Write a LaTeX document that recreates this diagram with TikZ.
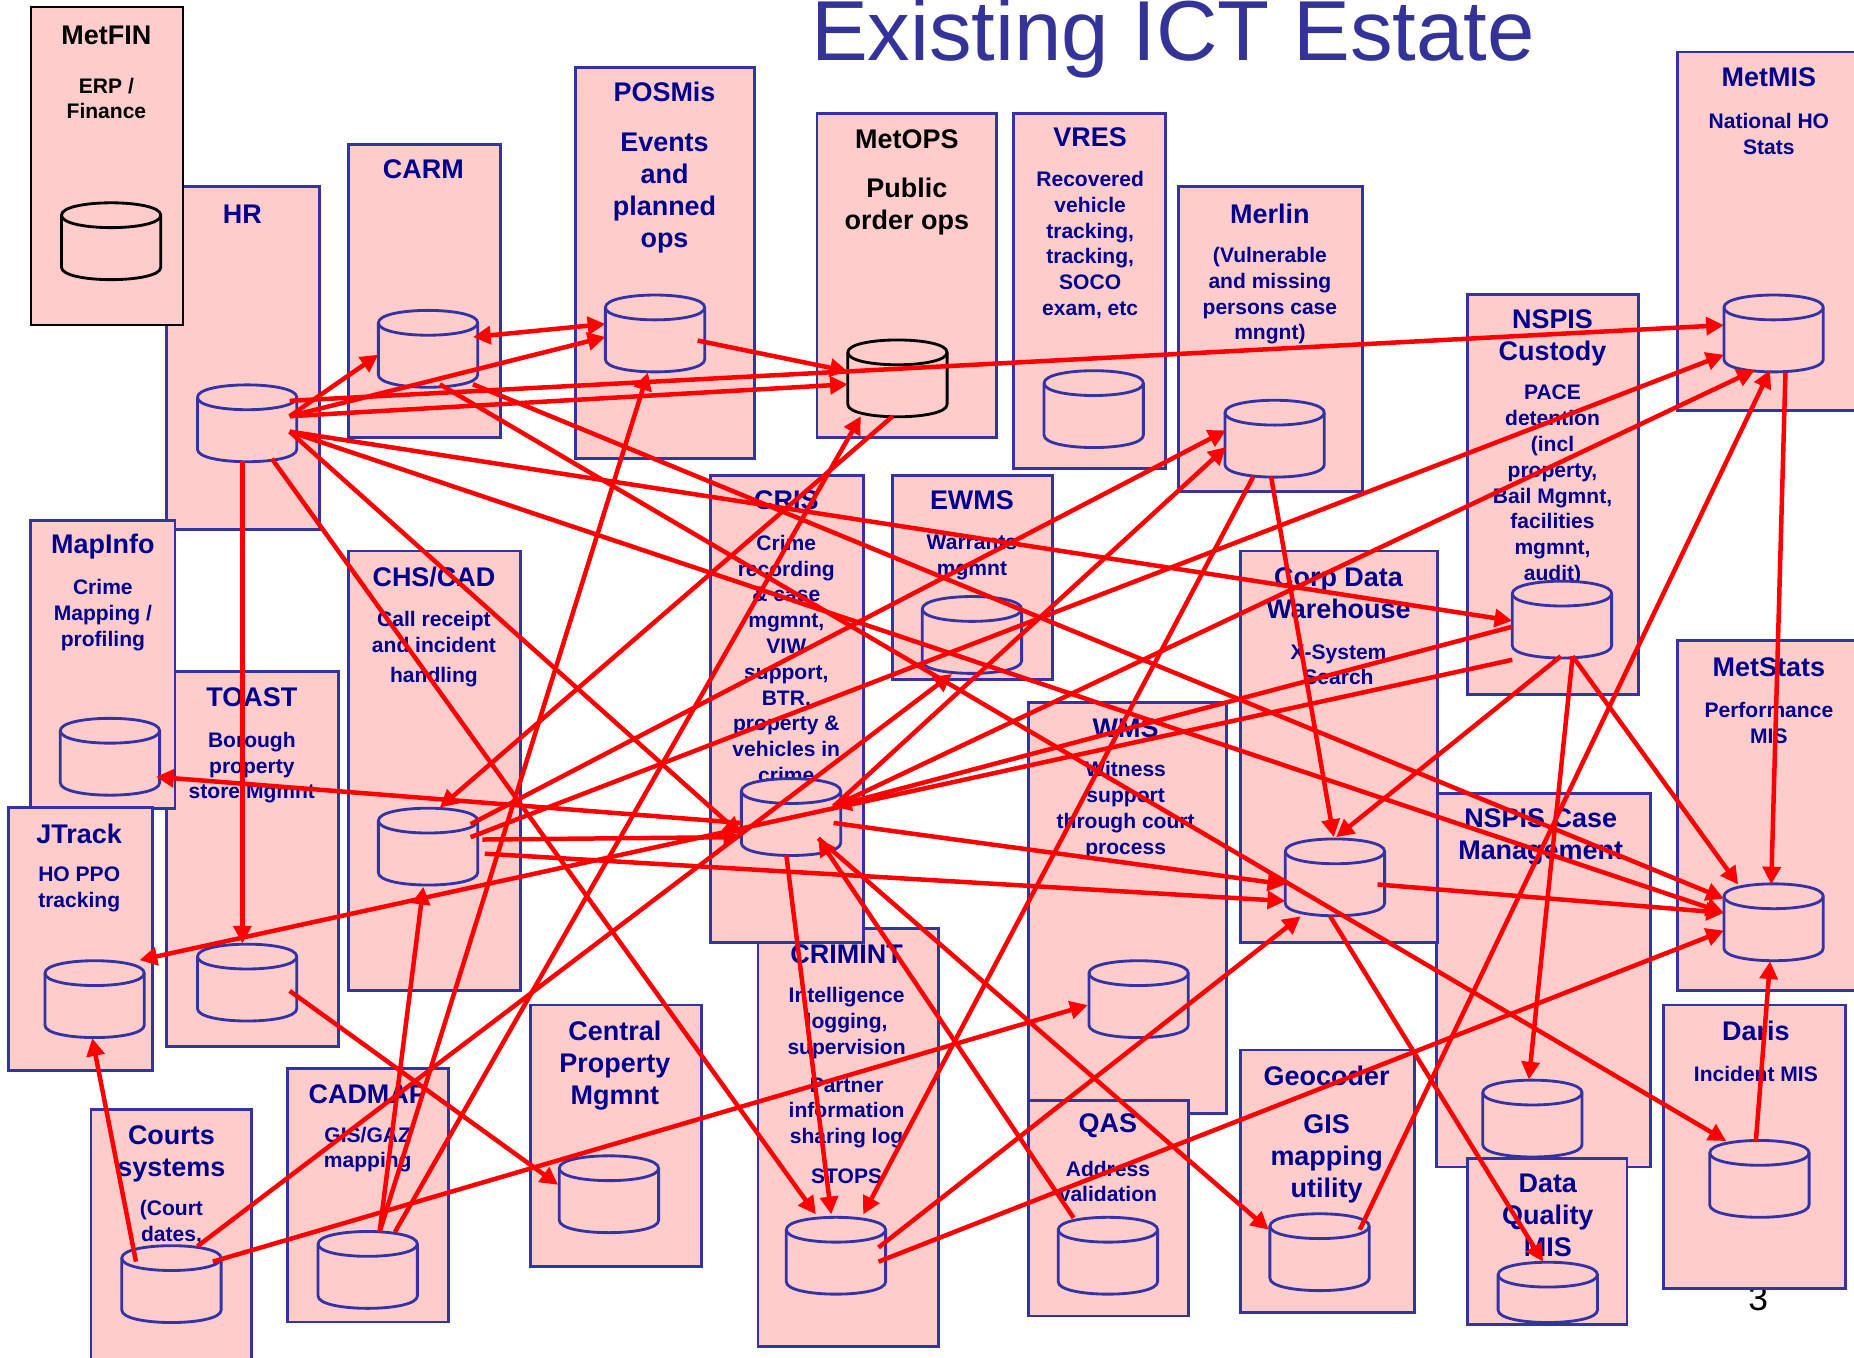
\documentclass[tikz,border=0pt]{standalone}
\usepackage{fontspec}
\setmainfont{Liberation Sans}
\usetikzlibrary{arrows.meta}
\definecolor{boxfill}{HTML}{FFCCCC}
\definecolor{boxline}{HTML}{3333A6}
\definecolor{txt}{HTML}{00008F}
\definecolor{ttl}{HTML}{333399}
\tikzset{
  x=0.5pt,y=-0.5pt,
  arr/.style={draw=red,line width=1.9pt,-{Triangle[length=7.5pt,width=7.5pt]}},
  appbox/.style={draw=boxline,fill=boxfill,line width=1.2pt},
  appboxk/.style={draw=black,fill=boxfill,line width=1pt},
  anchorpt/.style={inner sep=0pt,minimum size=0pt},
  ta/.style={align=center,inner sep=0pt,text=txt,font=\fontsize{11.4}{13.5}\selectfont\bfseries},
  tb/.style={align=center,inner sep=0pt,yshift=-0.6pt,text=txt,font=\fontsize{8.9}{10.9}\selectfont\bfseries},
  tk/.style={text=black},
}
\newcommand\abox[5][appbox]{\path[#1] (#2,#3) rectangle (#4,#5);}
\newcommand\tx[4][ta]{\node[#1] at (#2,#3) {#4};}
\newcommand\dbshape[3]{%
  \begin{scope}[shift={(#2,#3)}]
    \path[draw=#1,fill=boxfill,line width=1.2pt,line join=round]
      (-42,-\dbh) -- (-42,\dbh) .. controls (-42,\dbh+14) and (42,\dbh+14) .. (42,\dbh) -- (42,-\dbh)
      .. controls (42,-\dbh-14) and (-42,-\dbh-14) .. (-42,-\dbh) -- cycle;
    \path[draw=#1,line width=1.2pt] (-42,-\dbh) .. controls (-42,-\dbh+14) and (42,-\dbh+14) .. (42,-\dbh);
  \end{scope}}
\newcommand\dbn[4][boxline]{\def\dbh{22}\node[anchorpt] (#2) at (#3,#4) {};\dbshape{#1}{#3}{#4}}
\newcommand\dbs[4][boxline]{\def\dbh{15}\node[anchorpt] (#2) at (#3,#4) {};\dbshape{#1}{#3}{#4}}
\newcommand\conn[7][arr]{\draw[#1] ([shift={(#3,#4)}]#2.center) -- ([shift={(#6,#7)}]#5.center);}
\begin{document}
\begin{tikzpicture}
\clip (0,0) rectangle (1568,1147.7);
\path[fill=white] (0,0) rectangle (1568,1147.7);
\node[inner sep=0pt,anchor=base,text=ttl,font=\fontsize{36}{40}\selectfont] (title) at (992,51.5) {Existing ICT Estate};
\node[inner sep=0pt,text=black,font=\fontsize{15}{17}\selectfont] (pagenum) at (1487,1098) {3};

% HR
\abox{141}{158}{270}{448}\tx{205}{181}{HR}\dbn{hr}{209}{358}
% CARM
\abox{295}{122}{423}{370}\tx{358}{143}{CARM}\dbn{carm}{362}{295}
% POSMis
\abox{487}{57}{638}{388}\tx{562}{78}{POSMis}\tx{562}{163}{Events\\and\\planned\\ops}\dbn{pos}{554}{282}
% MetOPS
\abox{691}{96}{843}{370}\tx[ta,tk]{767}{118}{MetOPS}\tx[ta,tk]{767}{175}{Public\\order ops}\dbn[black]{ops}{759}{320}
% VRES
\abox{857}{96}{986}{396}\tx{922}{116}{VRES}\tx[tb]{922}{206}{Recovered\\vehicle\\tracking,\\tracking,\\SOCO\\exam, etc}\dbn{vres}{925}{346}
% Merlin
\abox{997}{158}{1152}{416}\tx{1074}{181}{Merlin}\tx[tb]{1074}{249}{(Vulnerable\\and missing\\persons case\\mngnt)}\dbn{merlin}{1078}{371}
% NSPIS Custody
\abox{1241}{249}{1386}{587}\tx{1313}{286}{NSPIS\\Custody}\tx[tb]{1313}{409}{PACE\\detention\\(incl\\property,\\Bail Mgmnt,\\facilities\\mgmnt,\\audit)}\dbn{nsp}{1321}{524}
% MetMIS
\abox{1419}{44}{1590}{347}\tx{1496}{65}{MetMIS}\tx[tb]{1496}{112}{National HO\\Stats}\dbn{mmis}{1500}{282}
% TOAST
\abox{141}{568}{286}{885}\tx{213}{590}{TOAST}\tx[tb]{213}{648}{Borough\\property\\store Mgmnt}\dbn{toast}{209}{831}
% MapInfo
\abox{26}{440}{148}{684}\tx{87}{462}{MapInfo}\tx[tb]{87}{519}{Crime\\Mapping /\\profiling}\dbn{mi}{93}{640}
% JTrack
\abox{7}{683}{129}{905}\tx{67}{705}{JTrack}\tx[tb]{67}{751}{HO PPO\\tracking}\dbn{jt}{80}{845}
% MetFIN
\abox[appboxk]{26}{6}{155}{275}\tx[ta,tk]{90}{30}{MetFIN}\tx[tb,tk]{90}{82}{ERP /\\Finance}\dbn[black]{fin}{94}{204}
% CHS/CAD
\abox{295}{466}{440}{838}\tx{367}{488}{CHS/CAD}\tx[tb]{367}{548}{Call receipt\\and incident\\[2pt]handling}\dbn{chs}{362}{716}
% CRIMINT
\abox{641}{785}{794}{1139}\tx{716}{807}{CRIMINT}\tx[tb]{716}{864}{Intelligence\\logging,\\supervision}\tx[tb]{716}{940}{Partner\\information\\sharing log}\tx[tb]{716}{994}{STOPS}\dbn{cri}{707}{1062}
% CRIS
\abox{601}{402}{730}{797}\tx{665}{423}{CRIS}\tx[tb]{665}{556}{Crime\\recording\\\& case\\mgmnt,\\VIW\\support,\\BTR,\\property \&\\vehicles in\\crime}\dbn{cris}{669}{691}
% EWMS
\abox{755}{402}{890}{575}\tx{822}{423}{EWMS}\tx[tb]{822}{470}{Warrants\\mgmnt}\dbn{ew}{822}{537}
% WMS
\abox{870}{594}{1037}{942}\tx{952}{616}{WMS}\tx[tb]{952}{684}{Witness\\support\\through court\\process}\dbn{wms}{963}{845}
% NSPIS Case
\abox{1215}{671}{1396}{987}\tx{1303}{708}{NSPIS Case\\Management}\dbn{nc}{1296}{946}
% Corp Data
\abox{1049}{466}{1216}{797}\tx{1132}{502}{Corp Data\\Warehouse}\tx[tb]{1132}{561}{X-System\\Search}\dbn{corp}{1129}{742}
% MetStats
\abox{1419}{542}{1590}{838}\tx{1496}{564}{MetStats}\tx[tb]{1496}{610}{Performance\\MIS}\dbn{mst}{1500}{780}
% Central Property
\abox{449}{850}{593}{1071}\tx{520}{901}{Central\\Property\\Mgmnt}\dbn{cen}{515}{1010}
% CADMAP
\abox{243}{904}{379}{1118}\tx{311}{925}{CADMAP}\tx[tb]{311}{971}{GIS/GAZ\\mapping}\dbn{cad}{311}{1074}
% Courts
\abox{77}{938}{213}{1160}\tx{145}{976}{Courts\\systems}\tx[tb]{145}{1033}{(Court\\dates,}\dbn{ct}{145}{1086}
% QAS
\abox{870}{931}{1005}{1113}\tx{937}{952}{QAS}\tx[tb]{937}{998}{Address\\validation}\dbn{qas}{937}{1062}
% Geocoder
\abox{1049}{888}{1196}{1110}\tx{1122}{910}{Geocoder}\tx{1122}{980}{GIS\\mapping\\utility}\dbn{geo}{1116}{1059}
% Data Quality
\abox{1241}{980}{1376}{1120}\tx{1309}{1028}{Data\\Quality\\MIS}\dbs{dq}{1309}{1093}
% Daris
\abox{1407}{850}{1561}{1090}\tx{1485}{872}{Daris}\tx[tb]{1485}{907}{Incident MIS}\dbn{dar}{1488}{997}

% connectors
\conn{hr}{36}{-6}{carm}{-42}{5}
\conn{hr}{36}{-6}{pos}{-42}{3}
\draw[arr,{Triangle[length=7.5pt,width=7.5pt]}-{Triangle[length=7.5pt,width=7.5pt]}] ([shift={(38,-10)}]carm.center) -- ([shift={(-42,-8)}]pos.center);
\conn{hr}{36}{-19}{mmis}{-42}{-7}
\conn{hr}{36}{-6}{ops}{-42}{5}
\conn{pos}{36}{6}{ops}{-42}{-6}
\conn{hr}{-4}{32}{toast}{-4}{-33}
\conn{hr}{21}{30}{cri}{-17}{-35}
\conn{hr}{36}{7}{cris}{-42}{15}
\conn{hr}{36}{7}{nsp}{-42}{1}
\conn{hr}{36}{7}{mst}{-42}{-8}
\conn{carm}{10}{30}{dar}{-28}{-32}
\conn{carm}{38}{30}{mst}{-42}{-20}
\conn{cad}{10}{-32}{pos}{-6}{33}
\conn{cad}{23}{-32}{ops}{-31}{32}
\conn{cad}{10}{-32}{chs}{-4}{34}
\conn{ops}{-4}{32}{chs}{10}{-33}
\conn{ct}{22}{-32}{ew}{-17}{33}
\conn{ct}{-30}{-19}{jt}{-2}{33}
\conn{ct}{35}{-19}{wms}{-43}{5}
\conn{chs}{36}{-19}{merlin}{-41}{-7}
\conn{chs}{36}{-8}{mmis}{-42}{18}
\conn{chs}{46}{-6}{cris}{-42}{17}
\conn{chs}{48}{6}{corp}{-42}{20}
\conn{cris}{36}{5}{corp}{-42}{6}
\conn{nsp}{-42}{34}{jt}{38}{-33}
\conn{nsp}{-42}{6}{cris}{36}{-9}
\conn{cris}{36}{-9}{merlin}{-41}{7}
\conn{cris}{36}{-9}{mmis}{-16}{31}
\conn{cris}{-42}{5}{mi}{39}{17}
\conn{cris}{-4}{32}{cri}{-4}{-35}
\conn{nsp}{-1}{31}{corp}{1}{-34}
\conn{merlin}{-3}{32}{corp}{-1}{-34}
\conn{merlin}{-18}{32}{cri}{23}{-35}
\conn{nsp}{9}{31}{nc}{-3}{-33}
\conn{nsp}{9}{31}{mst}{-30}{-32}
\conn{mmis}{10}{33}{mst}{-2}{-32}
\conn{dar}{-3}{-32}{mst}{-3}{33}
\conn{geo}{34}{-19}{mmis}{-3}{31}
\conn{qas}{-29}{-32}{cris}{23}{18}
\conn{cris}{23}{18}{geo}{-43}{-19}
\conn{cri}{36}{-7}{corp}{-29}{33}
\conn{cri}{36}{5}{mst}{-42}{7}
\conn{corp}{36}{6}{mst}{-42}{-8}
\conn{corp}{-4}{33}{dq}{-4}{-26}
\conn{toast}{36}{7}{cen}{-43}{-8}
\end{tikzpicture}
\end{document}
